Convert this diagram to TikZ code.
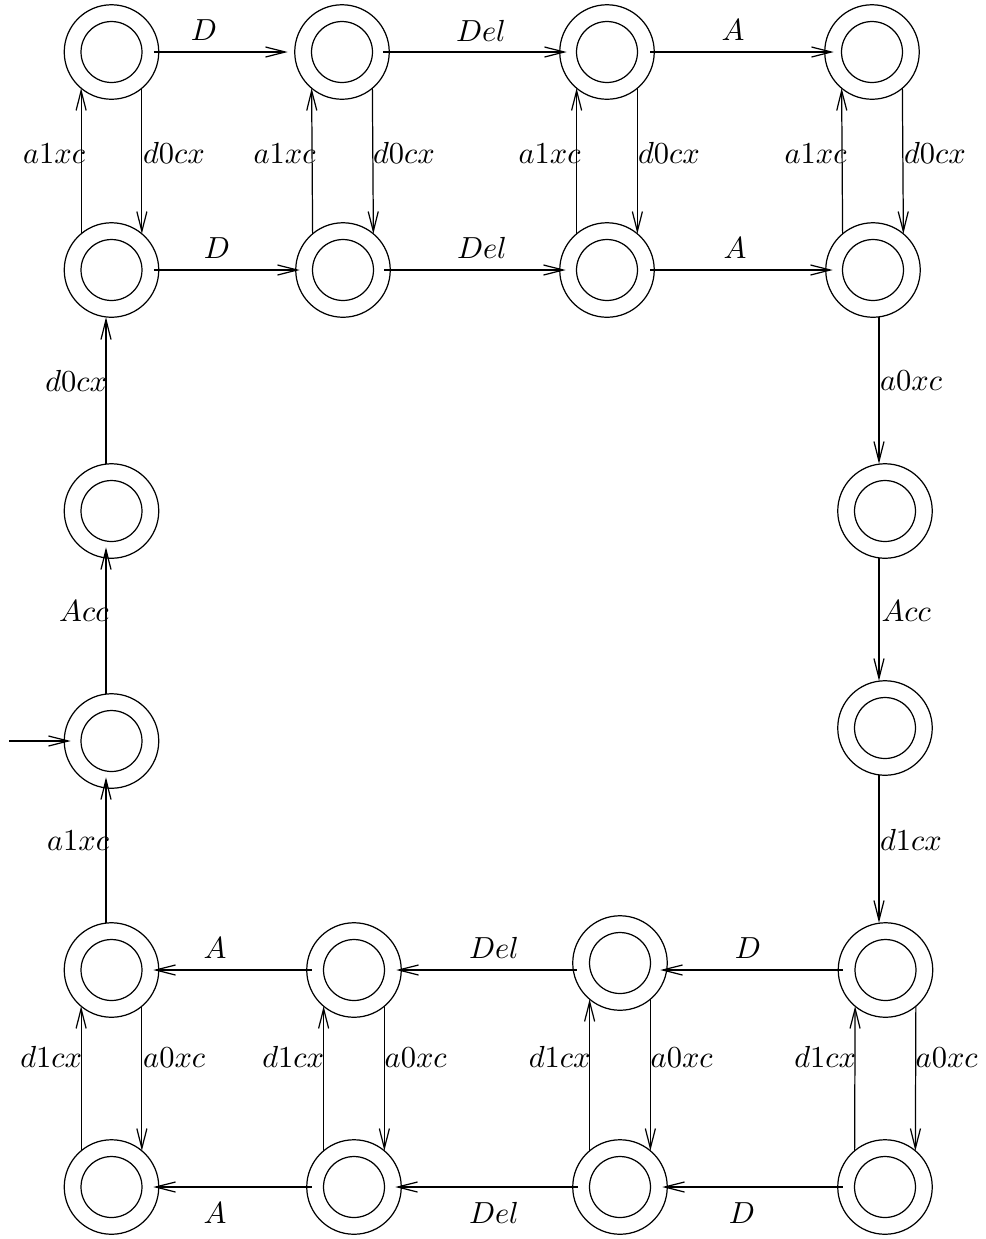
\documentclass[tikz,border=0pt]{standalone}
\usetikzlibrary{arrows.meta,calc}
\tikzset{
  state/.style={circle, draw, minimum size=31pt, inner sep=0pt, outer sep=0pt,
    path picture={\draw (path picture bounding box.center) circle[radius=10pt];}},
  arr/.style={-{Straight Barb[length=6.5pt,width=3.3pt]}},
  lbl/.style={inner sep=0pt, outer sep=0pt}
}
\begin{document}
\begin{tikzpicture}[x=0.328pt,y=-0.328pt]
\useasboundingbox (0,0) rectangle (986,1239);
% states
\node[state] (A1) at (111.5,52) {};
\node[state] (A2) at (342,52) {};
\node[state] (A3) at (607,52) {};
\node[state] (A4) at (872,52) {};
\node[state] (B1) at (111.5,270) {};
\node[state] (B2) at (343,270) {};
\node[state] (B3) at (607,270) {};
\node[state] (B4) at (873,270) {};
\node[state] (L1) at (111.5,511) {};
\node[state] (L2) at (111.5,741) {};
\node[state] (R1) at (885,511) {};
\node[state] (R2) at (885,728) {};
\node[state] (C1) at (111.5,970) {};
\node[state] (C2) at (354,970) {};
\node[state] (C3) at (620,963) {};
\node[state] (C4) at (885.5,970) {};
\node[state] (E1) at (111.5,1187) {};
\node[state] (E2) at (354,1187) {};
\node[state] (E3) at (620,1187) {};
\node[state] (E4) at (885,1187) {};
\coordinate (init) at (9,741);
% top rows horizontal
\draw[arr] ($(A1.east)+(-5,0)$) -- ($(A2.west)+(-7,0)$);
\draw[arr] ($(A2.east)+(-6,0)$) -- ($(A3.west)+(7,0)$);
\draw[arr] ($(A3.east)+(-4,0)$) -- ($(A4.west)+(9,0)$);
\draw[arr] ($(B1.east)+(-5,0)$) -- ($(B2.west)+(4,0)$);
\draw[arr] ($(B2.east)+(-6,0)$) -- ($(B3.west)+(6,0)$);
\draw[arr] ($(B3.east)+(-4,0)$) -- ($(B4.west)+(7,0)$);
% top vertical pairs
\foreach \i in {1,2,3,4}{
  \draw[arr] (B\i.130) -- (A\i.230);
  \draw[arr] (A\i.310) -- (B\i.50);
}
% left column
\draw[arr] ($(L1.north)+(-5.5,0)$) -- ($(B1.south)+(-5.5,0)$);
\draw[arr] ($(L2.north)+(-5.5,0)$) -- ($(L1.south)+(-5.5,-11)$);
\draw[arr] ($(C1.north)+(-5.5,0)$) -- ($(L2.south)+(-5.5,-11)$);
\draw[arr] (init) -- ($(L2.west)+(6.5,0)$);
% right column
\draw[arr] ($(B4.south)+(6,0)$) -- ($(R1.north)+(-6,0)$);
\draw[arr] ($(R1.south)+(-6,0)$) -- ($(R2.north)+(-6,0)$);
\draw[arr] ($(R2.south)+(-6,0)$) -- ($(C4.north)+(-6.5,0)$);
% bottom rows horizontal
\draw[arr] ($(C4.west)+(5,0)$) -- ($(C3.east)+(-7,7)$);
\draw[arr] ($(C3.west)+(4,7)$) -- ($(C2.east)+(-5,0)$);
\draw[arr] ($(C2.west)+(5,0)$) -- ($(C1.east)+(-5.5,0)$);
\draw[arr] ($(E4.west)+(5,0)$) -- ($(E3.east)+(-5,0)$);
\draw[arr] ($(E3.west)+(5,0)$) -- ($(E2.east)+(-6,0)$);
\draw[arr] ($(E2.west)+(5,0)$) -- ($(E1.east)+(-5.5,0)$);
% bottom vertical pairs
\foreach \i in {1,2,3,4}{
  \draw[arr] (E\i.130) -- (C\i.230);
  \draw[arr] (C\i.310) -- (E\i.50);
}
% labels: top horizontal
\node[lbl,anchor=base] (lab1) at (204,40) {$D$};
\node[lbl,anchor=base] (lab2) at (481,41) {$Del$};
\node[lbl,anchor=base] (lab3) at (733,40) {$A$};
\node[lbl,anchor=base] (lab4) at (217,258) {$D$};
\node[lbl,anchor=base] (lab5) at (482,258) {$Del$};
\node[lbl,anchor=base] (lab6) at (735,258) {$A$};
% labels: top vertical
\node[lbl,anchor=base east] (lab7) at (85,163) {$a1xc$};
\node[lbl,anchor=base east] (lab8) at (315.5,163) {$a1xc$};
\node[lbl,anchor=base east] (lab9) at (580.5,163) {$a1xc$};
\node[lbl,anchor=base east] (lab10) at (846.5,163) {$a1xc$};
\node[lbl,anchor=base west] (lab11) at (143,163) {$d0cx$};
\node[lbl,anchor=base west] (lab12) at (373,163) {$d0cx$};
\node[lbl,anchor=base west] (lab13) at (638,163) {$d0cx$};
\node[lbl,anchor=base west] (lab14) at (904,163) {$d0cx$};
% labels: left and right columns
\node[lbl,anchor=base east] (lab15) at (107,391) {$d0cx$};
\node[lbl,anchor=base east] (lab16) at (108.5,621) {$Acc$};
\node[lbl,anchor=base east] (lab17) at (109,850) {$a1xc$};
\node[lbl,anchor=base west] (lab18) at (880,390) {$a0xc$};
\node[lbl,anchor=base west] (lab19) at (881.5,621) {$Acc$};
\node[lbl,anchor=base west] (lab20) at (880,850) {$d1cx$};
% labels: bottom horizontal
\node[lbl,anchor=base] (lab21) at (215,958) {$A$};
\node[lbl,anchor=base] (lab22) at (494,958) {$Del$};
\node[lbl,anchor=base] (lab23) at (748,958) {$D$};
\node[lbl,anchor=base] (lab24) at (215,1223) {$A$};
\node[lbl,anchor=base] (lab25) at (494,1223) {$Del$};
\node[lbl,anchor=base] (lab26) at (742,1223) {$D$};
% labels: bottom vertical
\node[lbl,anchor=base east] (lab27) at (82,1067) {$d1cx$};
\node[lbl,anchor=base east] (lab28) at (324,1067) {$d1cx$};
\node[lbl,anchor=base east] (lab29) at (590.5,1067) {$d1cx$};
\node[lbl,anchor=base east] (lab30) at (856,1067) {$d1cx$};
\node[lbl,anchor=base west] (lab31) at (143.2,1067) {$a0xc$};
\node[lbl,anchor=base west] (lab32) at (384.7,1067) {$a0xc$};
\node[lbl,anchor=base west] (lab33) at (650.7,1067) {$a0xc$};
\node[lbl,anchor=base west] (lab34) at (915.7,1067) {$a0xc$};
\end{tikzpicture}
\end{document}
